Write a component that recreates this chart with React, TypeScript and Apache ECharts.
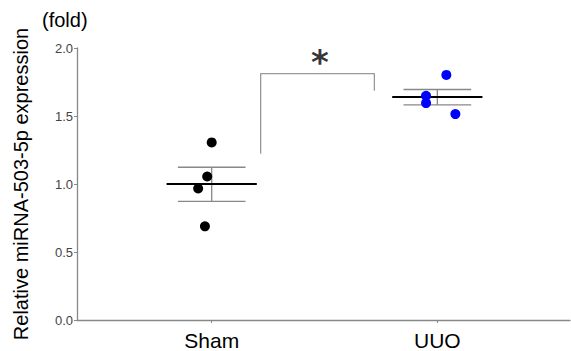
import React, { useEffect, useRef } from "react";
import * as echarts from "echarts";

const groups = ["Sham", "UUO"];
const groupX = [1, 2];
const shamPoints = [
  [1.0, 1.306],
  [0.98, 1.055],
  [0.94, 0.967],
  [0.97, 0.689],
];
const uuoPoints = [
  [2.04, 1.802],
  [1.95, 1.648],
  [1.95, 1.595],
  [2.08, 1.514],
];
const means = [1.0, 1.639];
const upper = [1.123, 1.695];
const lower = [0.872, 1.582];
const bracket = [
  [1.217, 1.223],
  [1.217, 1.812],
  [1.721, 1.812],
  [1.721, 1.685],
];
const starPoint = [1.48, 1.812];
const yTicks = [0, 0.5, 1.0, 1.5, 2.0];

export default function App() {
  const ref = useRef<HTMLDivElement>(null);
  useEffect(() => {
    document.body.style.margin = "0";
    const chart = echarts.init(ref.current!, null, { renderer: "svg" });
    const meanHalf = 0.2;
    const capHalf = 0.15;
    const font = "Liberation Sans, Arial, sans-serif";
    const series: any[] = [];
    groupX.forEach((x, i) => {
      series.push({
        type: "line",
        data: [
          [x - meanHalf, means[i]],
          [x + meanHalf, means[i]],
        ],
        symbol: "none",
        lineStyle: { color: "#000", width: 2 },
        z: 3,
      });
      series.push({
        type: "line",
        data: [
          [x - capHalf, upper[i]],
          [x + capHalf, upper[i]],
        ],
        symbol: "none",
        lineStyle: { color: "#888", width: 1.3 },
        z: 2,
      });
      series.push({
        type: "line",
        data: [
          [x - capHalf, lower[i]],
          [x + capHalf, lower[i]],
        ],
        symbol: "none",
        lineStyle: { color: "#888", width: 1.3 },
        z: 2,
      });
      series.push({
        type: "line",
        data: [
          [x, lower[i]],
          [x, upper[i]],
        ],
        symbol: "none",
        lineStyle: { color: "#888", width: 1.3 },
        z: 2,
      });
    });
    series.push({
      type: "scatter",
      data: shamPoints,
      symbolSize: 10,
      itemStyle: { color: "#000", opacity: 1 },
      z: 4,
    });
    series.push({
      type: "scatter",
      data: uuoPoints,
      symbolSize: 10,
      itemStyle: { color: "#0000ff", opacity: 1 },
      z: 4,
    });
    series.push({
      type: "line",
      data: bracket,
      symbol: "none",
      lineStyle: { color: "#999", width: 1.3 },
    });
    series.push({
      type: "scatter",
      data: [starPoint],
      symbolSize: 0,
      label: {
        show: true,
        formatter: "*",
        position: "top",
        distance: -5,
        fontSize: 34,
        fontWeight: "bold",
        fontFamily: "DejaVu Sans",
        color: "#000",
      },
    });
    chart.setOption({
      animation: false,
      grid: { left: 77, right: 1, top: 48, bottom: 31, outerBoundsMode: "none", containLabel: false },
      xAxis: {
        type: "value",
        min: 0.403,
        max: 2.588,
        splitLine: { show: false },
        axisLine: { lineStyle: { color: "#888", width: 1.3 } },
        axisTick: {
          show: true,
          length: 3,
          customValues: groupX,
          lineStyle: { color: "#888" },
        },
        axisLabel: {
          customValues: groupX,
          formatter: (v: number) => groups[groupX.indexOf(Math.round(v))] ?? "",
          fontSize: 21,
          fontFamily: font,
          color: "#000",
          margin: 10,
        },
      },
      yAxis: {
        type: "value",
        min: 0,
        max: 2,
        interval: 0.5,
        name: "Relative miRNA-503-5p expression",
        nameLocation: "middle",
        nameRotate: 90,
        nameGap: 46,
        nameTextStyle: { fontSize: 20, fontFamily: font, color: "#000" },
        splitLine: { show: false },
        axisLine: { show: true, lineStyle: { color: "#888", width: 1.3 } },
        axisTick: { show: true, length: 3, lineStyle: { color: "#888" } },
        axisLabel: {
          formatter: (v: number) => (yTicks.includes(v) ? v.toFixed(1) : ""),
          fontSize: 13,
          fontFamily: font,
          color: "#444",
          margin: 4,
        },
      },
      graphic: [
        {
          type: "text",
          left: 42,
          top: 10,
          style: { text: "(fold)", fontSize: 20, fontFamily: font, fill: "#000" },
        },
      ],
      series,
    });
    return () => chart.dispose();
  }, []);
  return <div ref={ref} style={{ width: 571, height: 351 }} />;
}
